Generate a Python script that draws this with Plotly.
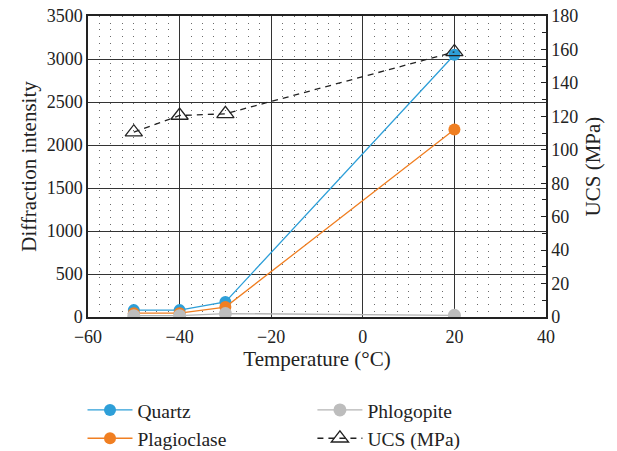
import plotly.graph_objects as go

temperature = [-50, -40, -30, 20]
quartz = [80, 80, 175, 3050]
plagioclase = [45, 45, 115, 2180]
phlogopite = [15, 15, 40, 20]
ucs = [110.5, 120.5, 121.5, 158.5]

FONT = "Liberation Serif"
TITLE_FONT = dict(size=21, family=FONT, color="#222")
fig = go.Figure()
fig.add_trace(go.Scatter(x=temperature, y=quartz, name="Quartz", mode="lines+markers",
                         legend="legend",
                         line=dict(color="#2e9fd8", width=1.3),
                         marker=dict(size=12, color="#2e9fd8")))
fig.add_trace(go.Scatter(x=temperature, y=plagioclase, name="Plagioclase", mode="lines+markers",
                         legend="legend",
                         line=dict(color="#f07f22", width=1.3),
                         marker=dict(size=12, color="#f07f22")))
fig.add_trace(go.Scatter(x=temperature, y=phlogopite, name="Phlogopite", mode="lines+markers",
                         legend="legend2",
                         line=dict(color="#b4b4b4", width=1.3),
                         marker=dict(size=13, color="#bdbdbd")))
fig.add_trace(go.Scatter(x=temperature, y=ucs, name="UCS (MPa)", mode="lines+markers", yaxis="y2",
                         legend="legend2",
                         line=dict(color="#222222", width=1.3, dash="6px,5px"),
                         marker=dict(size=15, symbol="triangle-up-open", color="#222222",
                                     line=dict(width=1.3))))

legend_common = dict(orientation="v", yanchor="top", xanchor="left", y=-0.245,
                     font=dict(size=19.5, family=FONT, color="#222"), itemwidth=45,
                     tracegroupgap=0, bgcolor="rgba(0,0,0,0)", traceorder="normal")

fig.update_layout(
    width=617, height=451,
    margin=dict(l=88, r=71, t=16, b=134, autoexpand=False),
    paper_bgcolor="white", plot_bgcolor="white",
    font=dict(family=FONT, size=18, color="#222"),
    showlegend=True,
    legend=dict(x=-0.012, **legend_common),
    legend2=dict(x=0.49, **legend_common),
    xaxis=dict(range=[-60, 40], dtick=20, showline=True, linecolor="#222", linewidth=1.5,
               mirror=True, showgrid=True, gridcolor="#333", gridwidth=1, zeroline=False,
               ticks="", ticklabelstandoff=3,
               title=dict(text="Temperature (°C)", standoff=5, font=TITLE_FONT),
               tickfont=dict(size=18, family=FONT),
               minor=dict(dtick=2.5, showgrid=True, gridcolor="#6a6a6a", gridwidth=1,
                          griddash="1px,5.7px")),
    yaxis=dict(range=[0, 3500], dtick=500, showline=True, linecolor="#222", linewidth=1.5,
               mirror=True, showgrid=True, gridcolor="#333", gridwidth=1, zeroline=False,
               ticks="", title=dict(text="Diffraction intensity", standoff=4, font=TITLE_FONT),
               tickfont=dict(size=18, family=FONT)),
    yaxis2=dict(range=[0, 180], dtick=20, overlaying="y", side="right", showgrid=False,
                showline=True, linecolor="#222", linewidth=1.5, zeroline=False,
                ticks="inside", ticklen=5, tickcolor="#222",
                minor=dict(dtick=10, ticks="inside", ticklen=4, tickcolor="#222"),
                title=dict(text="UCS (MPa)", standoff=8, font=TITLE_FONT),
                tickfont=dict(size=18, family=FONT)),
)
fig.write_html("out.html", config={"displayModeBar": False},
               post_script="document.body.style.margin='0';document.body.style.overflow='hidden';")
